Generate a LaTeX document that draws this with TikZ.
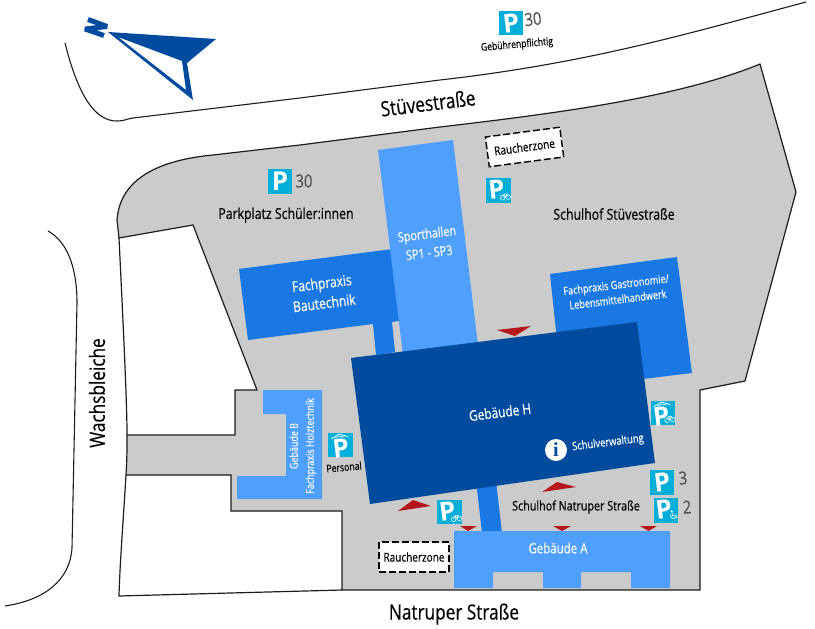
\documentclass[tikz,border=0pt]{standalone}
\usepackage{fontspec}
\setmainfont[FakeStretch=0.82,FakeBold=0.35]{Open Sans}
\newfontfamily\pfont{Open Sans}
\newfontfamily\ifont{Liberation Serif}
\definecolor{yard}{HTML}{CBCBCB}
\definecolor{lightb}{HTML}{4F9FFF}
\definecolor{midb}{HTML}{1A78E4}
\definecolor{darkb}{HTML}{004B9E}
\definecolor{redm}{HTML}{B5161B}
\definecolor{signc}{HTML}{00AFD9}
\definecolor{numg}{HTML}{555555}
\definecolor{ink}{HTML}{1C1C1C}
\tikzset{
  outline/.style={draw=ink,line width=1.2pt,line join=miter},
  street/.style={draw=ink,line width=1.1pt},
  marker/.style={fill=redm,draw=none},
  smokebox/.style={draw=black,fill=white,dashed,dash pattern=on 7pt off 3pt,line width=1.4pt,inner sep=0pt,font=\fontsize{12.2}{14}\selectfont},
  signbox/.style={fill=signc,draw=none,inner sep=0pt,minimum size=24.5pt},
  plabel/.style={text=white,inner sep=0pt,font=\pfont\bfseries\fontsize{26}{26}\selectfont},
  lab/.style={inner sep=0pt,align=center,text=black},
  wlab/.style={inner sep=0pt,align=center,text=white},
  num/.style={inner sep=0pt,text=numg,font=\fontsize{18}{18}\selectfont},
  road/.style={lab,font=\fontsize{21}{22}\selectfont},
  mini/.style={draw=white,line width=0.5pt,fill=none}
}
% sign: name, position, rotation, P offset, extra drawing
\newcommand{\parksign}[5]{%
  \begin{scope}[shift={(#2)},rotate=#3]
    \node[signbox] (#1) at (0,0) {};
    \node[plabel,rotate=#3] (#1p) at (#4) {P};
    #5
  \end{scope}}
\newcommand{\bikeicon}{%
  \draw[mini] (3.2,7.6) circle (2.4pt) (9,7.6) circle (2.4pt);
  \draw[mini] (3.2,7.6) -- (5,4.2) -- (8,4.2) -- (9,7.6) (5,4.2) -- (6.2,7.6) -- (8,4.2);}
\newcommand{\roofdraw}{%
  \draw[white,line width=0.8pt] (-8.5,-7.5) -- (0,-11) -- (8.5,-7.5);
  \draw[white,line width=0.6pt] (-5,-7.4) -- (0,-9) -- (5,-7.4);}
\newcommand{\wheelicon}{%
  \fill[white] (5.6,1.5) circle (1.1pt);
  \draw[white,line width=0.7pt] (5.6,2.5) -- (6,6) -- (9.5,6.5) -- (10.5,9);
  \draw[white,line width=0.7pt] (4.3,4.5) arc[start angle=150,end angle=330,radius=3pt];}
\begin{document}
\begin{tikzpicture}[x=1pt,y=-1pt]
\useasboundingbox (0,0) rectangle (815,629);
% yard
\fill[yard] (126,475) -- (231,475) -- (231,511) -- (342,511) -- (342,590) -- (700,590) -- (700,390) -- (745,381) -- (796,192) -- (760,64)
  .. controls (680,97) and (560,113) .. (440,127) -- (300,145) -- (213,155)
  .. controls (160,160) and (120,178) .. (117,220) -- (119,238) -- (193,225) -- (257,390) -- (235,390) -- (235,435) -- (127,435) -- cycle;
% buildings
\fill[midb] (239,269) -- (400,248) -- (410,319) -- (392,322) -- (395,352) -- (376,355) -- (373,324) -- (248,340) -- cycle;
\fill[lightb] (378,150) -- (453,140) -- (478,345) -- (403,355) -- cycle;
\fill[midb] (550,274) -- (677,257) -- (692,373) -- (643,379) -- (600,370) -- (557,340) -- cycle;
\fill[midb] (476.5,485) -- (496.5,485) -- (502,533) -- (482,533) -- cycle;
\fill[darkb] (351,358) -- (637,322) -- (655,463) -- (370,504) -- cycle;
\fill[lightb] (263,390) -- (322,390) -- (322,499) -- (237,499) -- (237,476) -- (286,476) -- (286,414) -- (263,414) -- cycle;
\fill[lightb] (454,531) -- (670,531) -- (670,588) -- (631,588) -- (631,572) -- (581,572) -- (581,588) -- (543,588) -- (543,572) -- (493,572) -- (493,588) -- (454,588) -- cycle;
% outlines
\draw[outline] (126,475) -- (231,475) -- (231,511) -- (342,511) -- (342,590) -- (700,590) -- (700,390) -- (745,381) -- (796,192) -- (760,64)
  .. controls (680,97) and (560,113) .. (440,127) -- (300,145) -- (213,155)
  .. controls (160,160) and (120,178) .. (117,220) -- (119,238) -- (193,225) -- (257,390) -- (235,390) -- (235,435) -- (127,435);
\draw[outline] (119,238) .. controls (122,300) and (127,400) .. (127,433) .. controls (127,450) and (127,460) .. (126,475) .. controls (124,510) and (120,560) .. (119,596) -- (342,590);
% streets
\draw[street] (65,43) .. controls (78,95) and (95,122) .. (118,121) .. controls (124,121) and (126,119) .. (133,118) -- (300,98) -- (440,80) .. controls (590,63) and (690,33) .. (806,2);
\draw[street] (48,231) .. controls (66,241) and (77,265) .. (77,303) -- (72,548) .. controls (70,580) and (45,600) .. (5,606);
% compass
\draw[darkb,line width=5pt,line join=bevel] (88,19.5) -- (107,26.5) -- (85,29) -- (104,35.5);
\fill[darkb,even odd rule] (108,32) -- (216,39) -- (187,63) -- (193,100) -- cycle (118,37) -- (182,61) -- (186,90) -- cycle;
% red markers
\fill[marker] (398,511) -- (431,506) -- (413,500) -- cycle;
\fill[marker] (542,492) -- (576,487) -- (557,482) -- cycle;
\fill[marker] (497,330) -- (531,326) -- (515,336) -- cycle;
\fill[marker] (460,526) -- (477,526) -- (468,531) -- cycle;
\fill[marker] (553,526) -- (571,526) -- (562,531) -- cycle;
\fill[marker] (640,526) -- (657,526) -- (648.5,531) -- cycle;
% smoking zones
\node[smokebox,rotate=7.5,minimum width=75pt,minimum height=30pt] (rz1) at (524.5,147) {Raucherzone};
\node[smokebox,minimum width=70pt,minimum height=30pt] (rz2) at (414,557) {Raucherzone};
% parking signs
\parksign{ptop}{511,23}{7}{0,0}{}
\parksign{pleft}{280,181.5}{0}{0,0}{}
\parksign{pbike1}{498.5,190.5}{6}{-2,-1}{\bikeicon}
\parksign{ppers}{340.5,445}{7}{0,3}{\roofdraw}
\parksign{pbike2}{449.5,512}{7}{-2,-1}{\bikeicon}
\parksign{pbike3}{663,413}{7}{-2,3}{\roofdraw\bikeicon}
\parksign{pthree}{662,482.5}{7}{0,0}{}
\parksign{ptwo}{666,510.5}{7}{-2,-1}{\wheelicon}
\node[num,rotate=6] (n1) at (533,19) {30};
\node[num] (n2) at (304,181) {30};
\node[num,rotate=4] (n3) at (683,478) {3};
\node[num,rotate=4] (n4) at (687,507) {2};
% info
\node[circle,fill=white,minimum size=22pt,inner sep=0pt,text=darkb,font=\ifont\bfseries\fontsize{20}{20}\selectfont] (info) at (556,450) {i};
% labels
\node[road,rotate=7] (t1) at (428,103) {Stüvestraße};
\node[road] (t2) at (454,614) {Natruper Straße};
\node[road,rotate=90] (t3) at (97,393) {Wachsbleiche};
\node[lab,font=\fontsize{10.5}{12}\selectfont,rotate=5] (t4) at (517,45) {Gebührenpflichtig};
\node[lab,font=\fontsize{10.6}{12}\selectfont,rotate=5] (t5) at (344,467) {Personal};
\node[lab,font=\fontsize{15}{17}\selectfont] (t6) at (286,215) {Parkplatz Schüler:innen};
\node[lab,font=\fontsize{15}{17}\selectfont] (t7) at (614,214) {Schulhof Stüvestraße};
\node[lab,font=\fontsize{13.1}{15}\selectfont] (t8) at (576,507) {Schulhof Natruper Straße};
\node[wlab,font=\fontsize{14.7}{20}\selectfont,rotate=7] (t9) at (323,293) {Fachpraxis\\Bautechnik};
\node[wlab,font=\fontsize{13.3}{19}\selectfont,rotate=7] (t10) at (428,243) {Sporthallen\\SP1 - SP3};
\node[wlab,font=\fontsize{11.1}{15}\selectfont,rotate=7] (t11) at (617,292) {Fachpraxis Gastronomie/\\Lebensmittelhandwerk};
\node[wlab,font=\fontsize{14.5}{16}\selectfont,rotate=7] (t12) at (500,412) {Gebäude H};
\node[wlab,font=\fontsize{11.4}{13}\selectfont,rotate=7] (t13) at (608,443) {Schulverwaltung};
\node[wlab,font=\fontsize{14}{16}\selectfont] (t14) at (558,548) {Gebäude A};
\node[wlab,font=\fontsize{10.9}{16}\selectfont,rotate=90] (t15) at (303,446) {Gebäude B\\Fachpraxis Holztechnik};
\end{tikzpicture}
\end{document}
